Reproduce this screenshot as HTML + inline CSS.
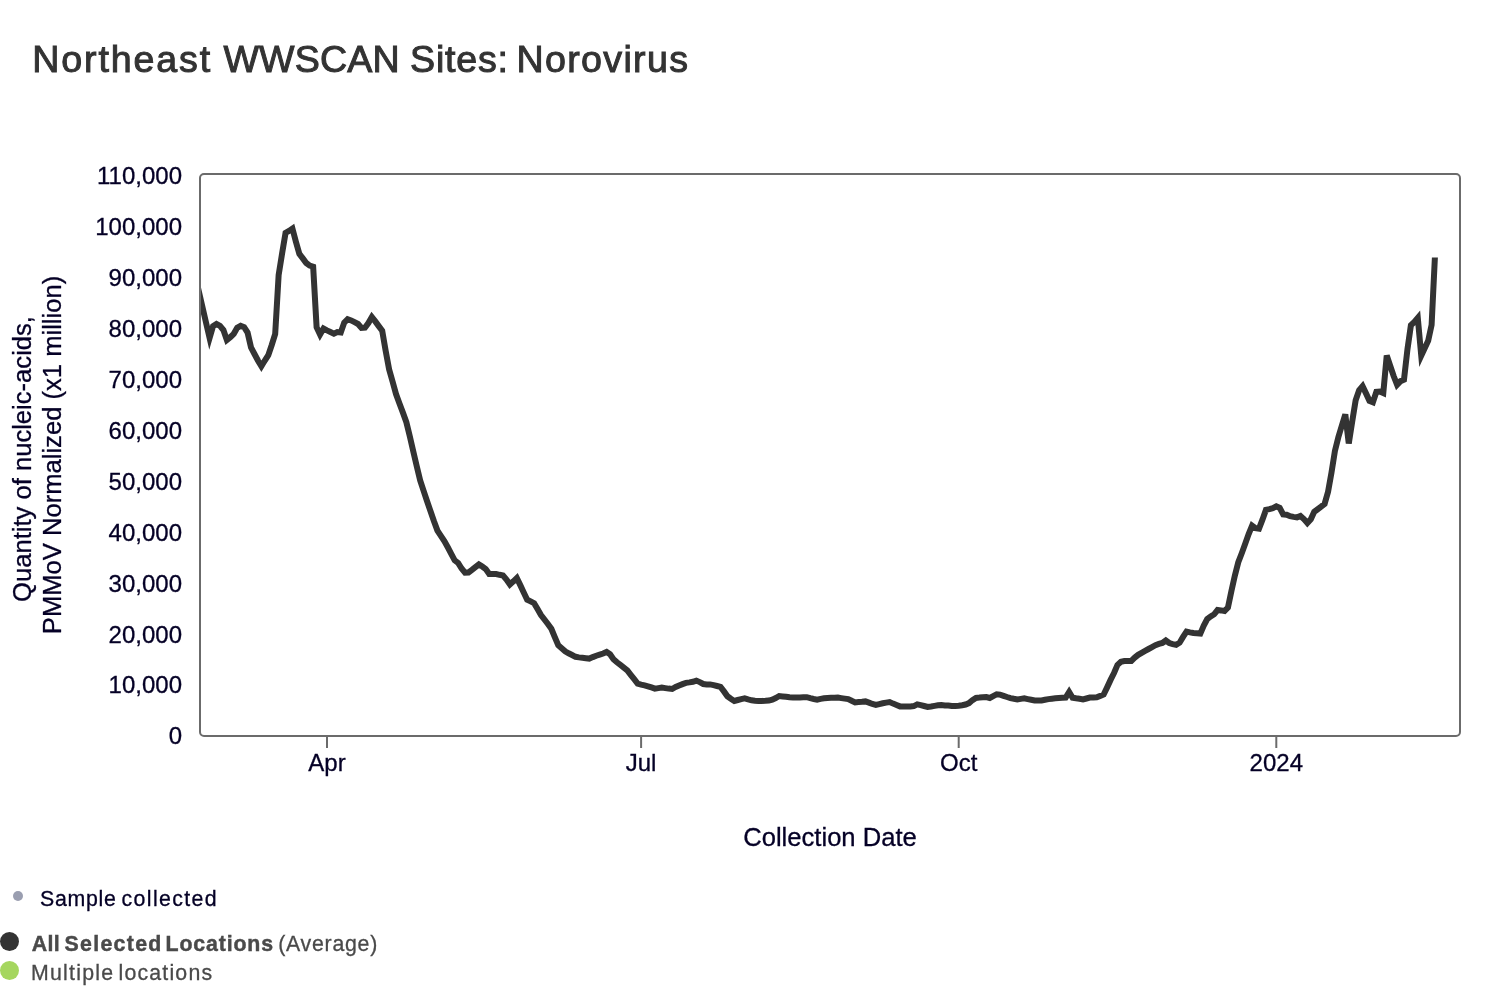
<!DOCTYPE html>
<html lang="en">
<head>
<meta charset="utf-8">
<title>Northeast WWSCAN Sites: Norovirus</title>
<style>
html,body{margin:0;padding:0;background:#fff;}
body{width:1500px;height:1002px;overflow:hidden;position:relative;font-family:"Liberation Sans",sans-serif;}
#title{position:absolute;left:0;top:35.5px;width:800px;height:46px;margin:0;font-size:37.6px;line-height:46px;font-weight:normal;color:#333;white-space:nowrap;-webkit-text-stroke:1px #333;}
#title span{position:absolute;top:0;}
svg{position:absolute;left:0;top:0;}
svg text{font-family:"Liberation Sans",sans-serif;font-size:24px;fill:#050026;stroke:#050026;stroke-width:0.3px;}
svg text.ax{font-size:25.6px;}
.lg{position:absolute;left:0;width:600px;height:26px;white-space:nowrap;font-size:21.3px;line-height:26px;-webkit-text-stroke:0.3px currentColor;}
.lg span,.lg b{position:absolute;top:0;}
.lg b{-webkit-text-stroke:0.45px currentColor;}
.dot{position:absolute;border-radius:50%;}
</style>
</head>
<body>
<h1 id="title"><span style="left:32.2px;letter-spacing:1.88px">Northeast</span> <span style="left:223.4px;letter-spacing:0.18px">WWSCAN</span> <span style="left:410.1px;letter-spacing:0.78px">Sites:</span> <span style="left:516.4px;letter-spacing:1.35px">Norovirus</span></h1>
<svg width="1500" height="1002" viewBox="0 0 1500 1002">
<defs><clipPath id="cp"><rect x="200" y="174" width="1200" height="562"/><rect x="1399" y="257.6" width="61" height="478"/></clipPath></defs>
<g>
<text x="182" y="744.3" text-anchor="end">0</text>
<text x="182" y="693.4" text-anchor="end">10,000</text>
<text x="182" y="642.5" text-anchor="end">20,000</text>
<text x="182" y="591.6" text-anchor="end">30,000</text>
<text x="182" y="540.7" text-anchor="end">40,000</text>
<text x="182" y="489.7" text-anchor="end">50,000</text>
<text x="182" y="438.8" text-anchor="end">60,000</text>
<text x="182" y="387.9" text-anchor="end">70,000</text>
<text x="182" y="337.0" text-anchor="end">80,000</text>
<text x="182" y="286.1" text-anchor="end">90,000</text>
<text x="182" y="235.2" text-anchor="end">100,000</text>
<text x="182" y="184.3" text-anchor="end">110,000</text>
</g>
<g>
<line x1="327" y1="736" x2="327" y2="748" stroke="#6b6b6b" stroke-width="2"/>
<text x="327" y="771" text-anchor="middle">Apr</text>
<line x1="641.1" y1="736" x2="641.1" y2="748" stroke="#6b6b6b" stroke-width="2"/>
<text x="641.1" y="771" text-anchor="middle">Jul</text>
<line x1="958.7" y1="736" x2="958.7" y2="748" stroke="#6b6b6b" stroke-width="2"/>
<text x="958.7" y="771" text-anchor="middle">Oct</text>
<line x1="1276.3" y1="736" x2="1276.3" y2="748" stroke="#6b6b6b" stroke-width="2"/>
<text x="1276.3" y="771" text-anchor="middle">2024</text>
</g>
<text class="ax" x="830" y="846" text-anchor="middle">Collection Date</text>
<text class="ax" transform="translate(31.3,459) rotate(-90)" text-anchor="middle">Quantity of nucleic-acids,</text>
<text class="ax" transform="translate(61.3,455) rotate(-90)" text-anchor="middle">PMMoV Normalized (x1 million)</text>
<path d="M195.79,278.3 L199.24,293.2 L202.7,308.1 L206.15,323.1 L209.6,338 L213.05,326.2 L216.5,324 L219.96,325.8 L223.41,330 L226.86,340 L230.31,337.2 L233.76,333.8 L237.22,327.8 L240.67,325.9 L244.12,327.2 L247.57,332.5 L251.02,347.5 L254.48,354 L257.93,360.5 L261.38,366.2 L264.83,360.5 L268.28,355.2 L271.74,345 L275.19,334 L278.64,275 L282.09,253.5 L285.54,232.9 L289,231 L292.45,228.6 L295.9,241.7 L299.35,253.8 L302.8,258.4 L306.26,263 L309.71,265.6 L313.16,266.7 L316.61,327.2 L320.06,334.5 L323.52,328.6 L326.97,330.4 L330.42,332 L333.87,333.6 L337.32,332 L340.78,332.4 L344.23,322.6 L347.68,319.2 L351.13,320.4 L354.58,322.2 L358.04,324 L361.49,328 L364.94,327.7 L368.39,323 L371.84,317 L375.3,321.4 L378.75,326.1 L382.2,330.7 L385.65,350.8 L389.1,369.2 L392.56,381.5 L396.01,394 L399.46,403.6 L402.91,412.6 L406.36,422.2 L409.82,436.4 L413.27,451.4 L416.72,466.1 L420.17,480.5 L423.62,490.9 L427.08,501.2 L430.53,511.3 L433.98,521.3 L437.43,530.6 L440.88,535.8 L444.34,541 L447.79,547.3 L451.24,553.9 L454.69,560.3 L458.14,563 L461.6,568.5 L465.05,572.6 L468.5,572.5 L471.95,569.9 L475.4,567.1 L478.86,564.4 L482.31,566.5 L485.76,569.1 L489.21,574 L492.66,574 L496.12,574 L499.57,574.8 L503.02,575.5 L506.47,579.5 L509.92,584.4 L513.38,581.3 L516.83,578 L520.28,585.1 L523.73,592.5 L527.18,599.7 L530.64,601.4 L534.09,603.2 L537.54,609.1 L540.99,615 L544.44,619.5 L547.9,624 L551.35,628.8 L554.8,637.2 L558.25,645.2 L561.7,648.2 L565.16,651.3 L568.61,653.3 L572.06,655 L575.51,656.8 L578.96,657.4 L582.42,657.8 L585.87,658.2 L589.32,658.6 L592.77,657.1 L596.22,655.7 L599.68,654.6 L603.13,653.5 L606.58,652 L610.03,654.3 L613.48,659.2 L616.94,662.3 L620.39,664.9 L623.84,667.6 L627.29,670.4 L630.74,674.8 L634.2,679.2 L637.65,683.6 L641.1,684.6 L644.55,685.3 L648,686.3 L651.46,687.4 L654.91,688.6 L658.36,688.1 L661.81,687.6 L665.26,688.1 L668.72,688.6 L672.17,689 L675.62,687 L679.07,685.5 L682.52,684.1 L685.98,682.9 L689.43,682.4 L692.88,681.8 L696.33,680.6 L699.78,682.1 L703.24,684 L706.69,684.4 L710.14,684.4 L713.59,685.1 L717.04,686 L720.5,686.9 L723.95,691.4 L727.4,696.3 L730.85,698.8 L734.3,701 L737.76,700 L741.21,699.1 L744.66,698.4 L748.11,699.4 L751.56,700.3 L755.02,700.7 L758.47,701 L761.92,700.9 L765.37,700.8 L768.82,700.6 L772.28,699.6 L775.73,698 L779.18,696 L782.63,696.4 L786.08,696.8 L789.54,697.3 L792.99,697.6 L796.44,697.5 L799.89,697.4 L803.34,697.3 L806.8,697.2 L810.25,698.2 L813.7,699 L817.15,699.6 L820.6,698.9 L824.06,698.3 L827.51,697.9 L830.96,697.8 L834.41,697.7 L837.86,697.6 L841.32,698.1 L844.77,698.6 L848.22,699.1 L851.67,700.8 L855.12,702.4 L858.58,702.1 L862.03,701.8 L865.48,701.4 L868.93,702.6 L872.38,704 L875.84,705 L879.29,704.1 L882.74,703.3 L886.19,702.6 L889.64,702 L893.1,703.6 L896.55,705 L900,706.4 L903.45,706.4 L906.9,706.4 L910.36,706.4 L913.81,706.1 L917.26,704.4 L920.71,705.1 L924.16,706 L927.62,707 L931.07,706.5 L934.52,705.9 L937.97,705.3 L941.42,705 L944.88,705.4 L948.33,705.6 L951.78,706 L955.23,705.9 L958.68,705.7 L962.14,705.2 L965.59,704.5 L969.04,703.1 L972.49,700.1 L975.94,697.9 L979.4,697.6 L982.85,697.2 L986.3,697 L989.75,698 L993.2,696.1 L996.66,694.4 L1000.11,694.6 L1003.56,695.8 L1007.01,697 L1010.46,698.1 L1013.92,698.8 L1017.37,699.4 L1020.82,698.9 L1024.27,698.4 L1027.72,699.1 L1031.18,699.8 L1034.63,700.5 L1038.08,700.6 L1041.53,700.5 L1044.98,699.8 L1048.44,699.1 L1051.89,698.7 L1055.34,698.3 L1058.79,698 L1062.24,697.8 L1065.7,697.6 L1069.15,692 L1072.6,697.7 L1076.05,698.3 L1079.5,698.8 L1082.96,699.4 L1086.41,698.5 L1089.86,697.6 L1093.31,697.4 L1096.76,697.2 L1100.22,695.9 L1103.67,694.5 L1107.12,687.4 L1110.57,679.9 L1114.02,673 L1117.48,664.9 L1120.93,661.7 L1124.38,661 L1127.83,661 L1131.28,661 L1134.74,657.6 L1138.19,654.8 L1141.64,652.8 L1145.09,650.9 L1148.54,649 L1152,647.1 L1155.45,645.2 L1158.9,643.9 L1162.35,643 L1165.8,640.5 L1169.26,643 L1172.71,644.1 L1176.16,644.8 L1179.61,642.7 L1183.06,636.9 L1186.52,631.6 L1189.97,632.4 L1193.42,633 L1196.87,633.3 L1200.32,633.6 L1203.78,625.5 L1207.23,619 L1210.68,616.4 L1214.13,614.3 L1217.58,610 L1221.04,610.4 L1224.49,611 L1227.94,607.5 L1231.39,591.2 L1234.84,575.7 L1238.3,562.2 L1241.75,553.2 L1245.2,543.8 L1248.65,534 L1252.1,525.6 L1255.56,528.1 L1259.01,528.6 L1262.46,519.7 L1265.91,509.9 L1269.36,509.1 L1272.82,508.1 L1276.27,506.4 L1279.72,507.9 L1283.17,514.4 L1286.62,514.7 L1290.08,516.2 L1293.53,516.9 L1296.98,517.4 L1300.43,516 L1303.88,519.1 L1307.34,523 L1310.79,519.2 L1314.24,511.8 L1317.69,509.3 L1321.14,506.7 L1324.6,503.9 L1328.05,491.8 L1331.5,472.5 L1334.95,450.8 L1338.4,437 L1341.86,425.5 L1345.31,414.4 L1348.76,443.5 L1352.21,421.5 L1355.66,400.3 L1359.12,390.2 L1362.57,386.2 L1366.02,393.4 L1369.47,400.8 L1372.92,402.2 L1376.38,391.8 L1379.83,391.5 L1383.28,393 L1386.73,355.5 L1390.18,365.8 L1393.64,376 L1397.09,384.8 L1400.54,381.1 L1403.99,379.7 L1407.44,349.5 L1410.9,325.3 L1414.35,322 L1417.8,317.9 L1421.25,355.7 L1424.7,348.3 L1428.16,340.8 L1431.61,324.8 L1435.06,254" fill="none" stroke="#333" stroke-width="6" stroke-linejoin="miter" clip-path="url(#cp)"/>
<rect x="200" y="174" width="1260" height="562" rx="4" ry="4" fill="none" stroke="#6b6b6b" stroke-width="2"/>
</svg>
<div class="dot" style="left:13px;top:891.3px;width:10px;height:10px;background:#9a9eb0"></div>
<div class="lg" style="top:885.9px;color:#050026"><span style="left:39.99px;letter-spacing:0.73px">Sample</span> <span style="left:121.6px;letter-spacing:1.38px">collected</span></div>
<div class="dot" style="left:0px;top:932px;width:19px;height:19px;background:#333"></div>
<div class="lg" style="top:930.7px;color:#4a4a4a"><b style="left:31.63px;letter-spacing:0.44px">All</b> <b style="left:64.6px;letter-spacing:1.3px">Selected</b> <b style="left:165.62px;letter-spacing:0.85px">Locations</b> <span style="left:278.18px;letter-spacing:0.75px">(Average)</span></div>
<div class="dot" style="left:0px;top:961px;width:19px;height:19px;background:#a5d65f"></div>
<div class="lg" style="top:959.9px;color:#4a4a4a"><span style="left:31.06px;letter-spacing:1.24px">Multiple</span> <span style="left:118.46px;letter-spacing:1.2px">locations</span></div>
</body>
</html>
